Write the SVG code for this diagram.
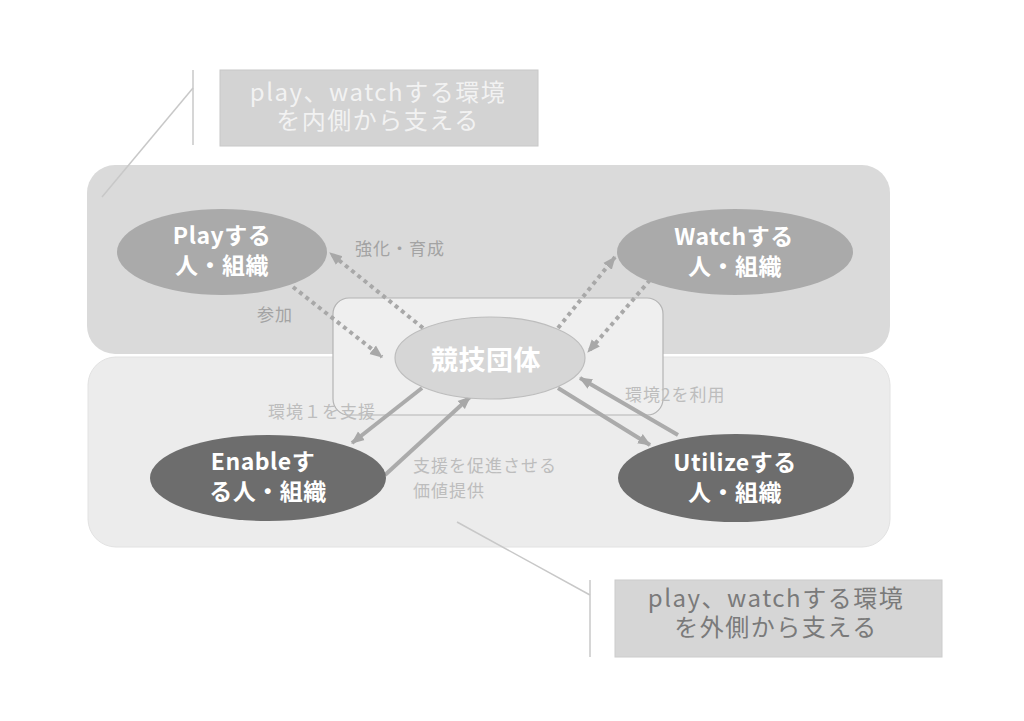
<svg xmlns="http://www.w3.org/2000/svg" width="1024" height="721" viewBox="0 0 1024 721">
<defs>
<style>
.node-text{font-family:"Noto Sans CJK JP","Noto Sans",sans-serif;font-weight:bold;font-size:23px;fill:#ffffff;text-anchor:middle;letter-spacing:0.5px}
.label{font-family:"Noto Sans CJK JP","Noto Sans",sans-serif;font-size:17px;fill:#a3a3a3;letter-spacing:1px}
.label-light{font-family:"Noto Sans CJK JP","Noto Sans",sans-serif;font-size:17px;fill:#bdbdbd;letter-spacing:1px}
.callout-text{font-family:"Noto Sans CJK JP","Noto Sans",sans-serif;font-size:24px;text-anchor:middle;letter-spacing:1.5px}
.dotted{fill:none;stroke:#a8a8a8;stroke-width:4;stroke-dasharray:4 4}
.solid{fill:none;stroke:#ababab;stroke-width:4}
.leader{fill:none;stroke:#c8c8c8;stroke-width:1.5}
</style>
<marker id="ah" viewBox="0 0 12 10" refX="11" refY="5" markerWidth="13" markerHeight="12" markerUnits="userSpaceOnUse" orient="auto">
<path d="M0,0 L12,5 L0,10 z" fill="#a8a8a8"/>
</marker>
</defs>
<rect width="1024" height="721" fill="#ffffff"/>

<g id="band-inner">
<rect x="87" y="165" width="803" height="189" rx="28" fill="#dadada"/>
</g>
<g id="band-outer">
<rect x="88" y="357" width="802" height="190" rx="28" fill="#ececec" stroke="#e2e2e2" stroke-width="1"/>
</g>
<g id="center-frame">
<rect x="333" y="298" width="330" height="117" rx="16" fill="#efefef" stroke="#b4b4b4" stroke-width="1.2"/>
</g>

<g id="callout-inner">
<line class="leader" x1="193" y1="70" x2="193" y2="145"/>
<line class="leader" x1="193" y1="88" x2="102" y2="197"/>
<rect x="220" y="70" width="318" height="76" fill="#d3d3d3" stroke="#c8c8c8" stroke-width="1"/>
<text class="callout-text" x="378" y="101" fill="#f2f2f2">play、watchする環境</text>
<text class="callout-text" x="378" y="129" fill="#f2f2f2">を内側から支える</text>
</g>

<g id="callout-outer">
<line class="leader" x1="590" y1="580" x2="590" y2="657"/>
<line class="leader" x1="590" y1="595" x2="457" y2="522"/>
<rect x="615" y="580" width="327" height="77" fill="#d6d6d6" stroke="#cccccc" stroke-width="1"/>
<text class="callout-text" x="776" y="607" fill="#7a7a7a">play、watchする環境</text>
<text class="callout-text" x="776" y="636" fill="#7a7a7a">を外側から支える</text>
</g>

<g id="connectors">
<line class="dotted" x1="423" y1="328" x2="330" y2="253" marker-end="url(#ah)"/>
<line class="dotted" x1="293" y1="287" x2="382" y2="357" marker-end="url(#ah)"/>
<line class="dotted" x1="558" y1="328" x2="615" y2="257" marker-end="url(#ah)"/>
<line class="dotted" x1="650" y1="280" x2="588" y2="352" marker-end="url(#ah)"/>
<line class="solid" x1="422" y1="388" x2="352" y2="443" marker-end="url(#ah)"/>
<line class="solid" x1="385" y1="475" x2="470" y2="397" marker-end="url(#ah)"/>
<line class="solid" x1="558" y1="388" x2="650" y2="445" marker-end="url(#ah)"/>
<line class="solid" x1="678" y1="435" x2="580" y2="378" marker-end="url(#ah)"/>
<text class="label" x="355" y="255">強化・育成</text>
<text class="label" x="257" y="321">参加</text>
<text class="label-light" x="268" y="418">環境１を支援</text>
<text class="label-light" x="413" y="472">支援を促進させる</text>
<text class="label-light" x="413" y="497">価値提供</text>
<text class="label-light" x="625" y="401">環境2を利用</text>
</g>

<g id="node-play">
<ellipse cx="222" cy="252" rx="105" ry="43" fill="#aaaaaa"/>
<text class="node-text" x="222" y="244">Playする</text>
<text class="node-text" x="222" y="274">人・組織</text>
</g>
<g id="node-watch">
<ellipse cx="735" cy="252" rx="118" ry="43" fill="#aaaaaa"/>
<text class="node-text" x="734" y="245">Watchする</text>
<text class="node-text" x="735" y="275">人・組織</text>
</g>
<g id="node-center">
<ellipse cx="490" cy="358" rx="95" ry="41" fill="#d6d6d6" stroke="#bdbdbd" stroke-width="1.2"/>
<text class="node-text" x="486" y="370" style="font-size:27px">競技団体</text>
</g>
<g id="node-enable">
<ellipse cx="268" cy="478" rx="118" ry="43" fill="#6d6d6d"/>
<text class="node-text" x="263" y="470">Enableす</text>
<text class="node-text" x="268" y="500">る人・組織</text>
</g>
<g id="node-utilize">
<ellipse cx="736" cy="478" rx="118" ry="44" fill="#6d6d6d"/>
<text class="node-text" x="735" y="471">Utilizeする</text>
<text class="node-text" x="735" y="501">人・組織</text>
</g>
</svg>
